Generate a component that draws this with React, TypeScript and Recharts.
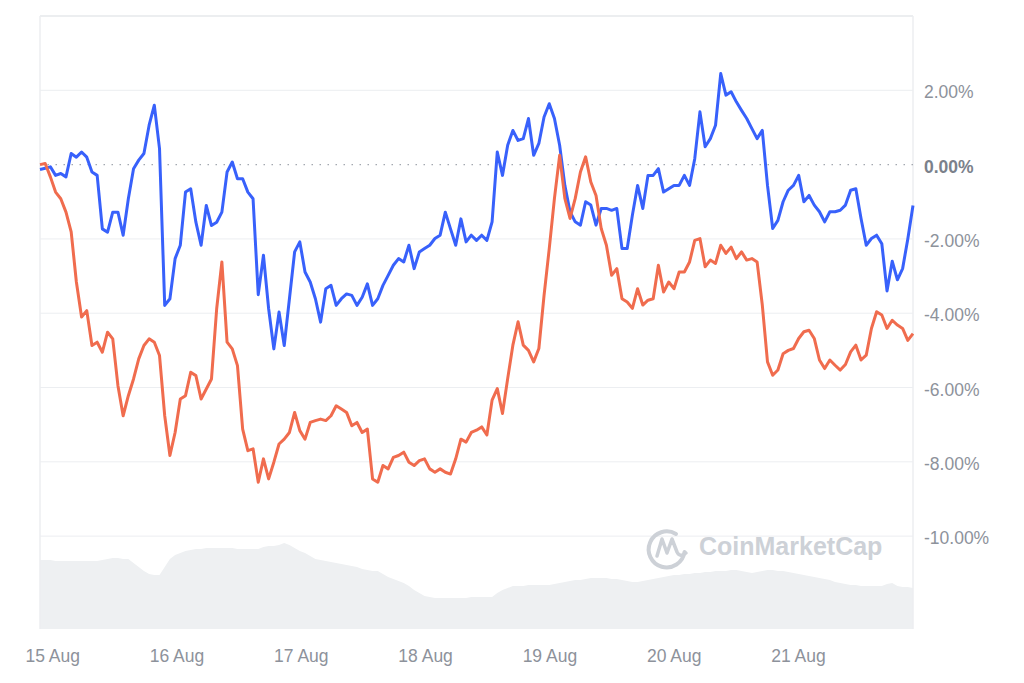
import {
  ComposedChart,
  Line,
  Area,
  XAxis,
  YAxis,
  ReferenceLine,
} from 'recharts'

// hourly samples, first one at 14 Aug 21:33 (hours relative to 15 Aug 00:00)
const START_HOUR = -2.45
const STEP_HOURS = 1.0033

const DAY_TICKS = [0, 24, 48, 72, 96, 120, 144]
const DAY_LABELS = ['15 Aug', '16 Aug', '17 Aug', '18 Aug', '19 Aug', '20 Aug', '21 Aug']
const PCT_TICKS = [2, 0, -2, -4, -6, -8, -10]

// % change, blue series
const BLUE = [
  -0.13, -0.1, -0.06, -0.29, -0.24, -0.33, 0.3, 0.2, 0.34, 0.2, -0.2, -0.29, -1.73, -1.82, -1.28, -1.28,
  -1.9, -0.92, -0.11, 0.12, 0.3, 1.06, 1.6, 0.43, -3.79, -3.61, -2.53, -2.17, -0.74, -0.65, -1.55, -2.17,
  -1.1, -1.64, -1.55, -1.28, -0.2, 0.07, -0.38, -0.38, -0.74, -0.92, -3.5, -2.44, -3.88, -4.96, -3.97, -4.87,
  -3.61, -2.35, -2.08, -2.89, -3.16, -3.61, -4.24, -3.34, -3.25, -3.79, -3.61, -3.48, -3.52, -3.79, -3.57, -3.21,
  -3.79, -3.61, -3.25, -2.98, -2.71, -2.53, -2.62, -2.17, -2.8, -2.35, -2.26, -2.17, -1.99, -1.9, -1.28, -1.73,
  -2.17, -1.46, -2.08, -1.9, -2.04, -1.9, -2.04, -1.54, 0.34, -0.29, 0.52, 0.92, 0.65, 0.7, 1.24, 0.25,
  0.57, 1.28, 1.64, 1.24, 0.52, -0.56, -1.27, -1.54, -1.63, -1.0, -1.09, -1.63, -1.18, -1.18, -1.23, -1.18,
  -2.26, -2.26, -1.36, -0.56, -1.18, -0.29, -0.29, -0.11, -0.74, -0.65, -0.56, -0.56, -0.29, -0.56, 0.16, 1.42,
  0.48, 0.7, 1.06, 2.45, 1.87, 1.96, 1.69, 1.46, 1.24, 0.97, 0.7, 0.92, -0.56, -1.72, -1.5, -1.0,
  -0.69, -0.56, -0.29, -1.0, -0.83, -1.09, -1.27, -1.54, -1.27, -1.27, -1.23, -1.09, -0.69, -0.65, -1.45, -2.17,
  -1.99, -1.9, -2.13, -3.4, -2.6, -3.1, -2.8, -2.0, -1.1,
]

// % change, orange series
const ORANGE = [
  0, 0.03, -0.33, -0.74, -0.92, -1.28, -1.81, -3.16, -4.1, -3.93, -4.87, -4.78, -5.05, -4.51, -4.69, -5.95,
  -6.76, -6.22, -5.77, -5.23, -4.87, -4.69, -4.78, -5.14, -6.76, -7.83, -7.21, -6.31, -6.22, -5.59, -5.68, -6.31,
  -6.04, -5.77, -3.88, -2.62, -4.78, -4.96, -5.41, -7.12, -7.7, -7.65, -8.55, -7.92, -8.46, -8.01, -7.52, -7.39,
  -7.21, -6.67, -7.16, -7.39, -6.94, -6.89, -6.85, -6.89, -6.76, -6.49, -6.58, -6.67, -7.03, -6.94, -7.21, -7.12,
  -8.46, -8.55, -8.1, -8.19, -7.88, -7.83, -7.74, -8.01, -8.1, -7.97, -7.92, -8.19, -8.28, -8.19, -8.28, -8.33,
  -7.92, -7.39, -7.47, -7.21, -7.15, -7.06, -7.28, -6.34, -6.03, -6.7, -5.76, -4.86, -4.23, -4.86, -5.0, -5.31,
  -4.95, -3.52, -2.26, -0.91, 0.25, -0.91, -1.45, -0.91, -0.2, 0.21, -0.47, -0.83, -1.72, -2.17, -2.98, -2.8,
  -3.61, -3.7, -3.87, -3.34, -3.78, -3.65, -3.61, -2.71, -3.43, -3.16, -3.34, -2.89, -2.89, -2.62, -2.04, -1.99,
  -2.75, -2.57, -2.66, -2.17, -2.39, -2.22, -2.53, -2.35, -2.57, -2.53, -2.62, -3.78, -5.31, -5.67, -5.53, -5.09,
  -5.0, -4.95, -4.68, -4.5, -4.46, -4.68, -5.26, -5.49, -5.26, -5.4, -5.53, -5.38, -5.04, -4.86, -5.26, -5.13,
  -4.41, -3.96, -4.05, -4.41, -4.19, -4.32, -4.41, -4.73, -4.55,
]

// volume, arbitrary units (hidden axis)
const VOLUME = [
  69, 69, 69, 68, 68, 68, 68, 68, 68, 68, 68, 68, 69, 70, 71, 71,
  70, 70, 66, 62, 58, 55, 54, 54, 62, 70, 74, 76, 78, 79, 80, 80,
  81, 81, 81, 81, 81, 81, 80, 80, 80, 80, 80, 82, 83, 83, 84, 86,
  84, 81, 78, 76, 73, 70, 69, 68, 67, 66, 65, 64, 63, 62, 60, 59,
  58, 58, 55, 52, 50, 48, 46, 43, 39, 36, 33, 32, 31, 31, 31, 31,
  31, 31, 31, 32, 32, 32, 32, 32, 36, 39, 41, 43, 43, 43, 44, 44,
  44, 44, 44, 45, 46, 47, 48, 49, 49, 50, 51, 51, 51, 51, 50, 50,
  49, 48, 47, 47, 48, 49, 50, 51, 52, 53, 54, 54, 55, 55, 56, 56,
  57, 57, 58, 58, 58, 59, 59, 58, 57, 56, 57, 58, 59, 59, 58, 58,
  57, 56, 55, 54, 53, 52, 51, 50, 49, 47, 46, 45, 44, 44, 43, 43,
  43, 43, 43, 45, 46, 43, 42, 42, 41,
]

const FONT = '"Liberation Sans", Arial, Helvetica, sans-serif'

const rows = BLUE.map((b, i) => ({
  t: START_HOUR + i * STEP_HOURS,
  blue: b,
  orange: ORANGE[i],
  vol: VOLUME[i],
}))

const fmtPct = (v: number) => `${v.toFixed(2)}%`

function PctTick(props: any) {
  const { x, y, payload } = props
  const zero = payload.value === 0
  return (
    <text
      x={x + 3}
      y={y}
      dy={8}
      textAnchor="start"
      fontSize={17.5}
      fontFamily={FONT}
      fontWeight={zero ? 700 : 400}
      fill={zero ? '#7b818b' : '#8d929b'}
    >
      {fmtPct(payload.value)}
    </text>
  )
}

function DayTick(props: any) {
  const { x, y, payload } = props
  const idx = DAY_TICKS.indexOf(payload.value)
  return (
    <text x={x} y={y} dy={25} textAnchor="middle" fontSize={17.5} fontFamily={FONT} fill="#8d929b">
      {DAY_LABELS[idx]}
    </text>
  )
}

const GRID = '#eceef1'

export default function App() {
  return (
    <div style={{ position: 'absolute', left: 0, top: 0, width: 1024, height: 683, background: '#fff' }}>
      <ComposedChart
        width={1024}
        height={683}
        data={rows}
        margin={{ top: 16, right: 0, bottom: 0, left: 40 }}
      >
        <XAxis
          dataKey="t"
          type="number"
          domain={['dataMin', 'dataMax']}
          ticks={DAY_TICKS}
          tick={<DayTick />}
          tickLine={false}
          axisLine={false}
          height={54}
          yAxisId="pct"
        />
        <YAxis
          yAxisId="pct"
          orientation="right"
          domain={[-12.5, 4]}
          ticks={PCT_TICKS}
          tick={<PctTick />}
          tickLine={false}
          axisLine={false}
          width={111}
          allowDataOverflow
        />
        <YAxis yAxisId="vol" domain={[0, 613]} hide />
        {PCT_TICKS.filter(v => v !== 0).map(v => (
          <ReferenceLine key={v} yAxisId="pct" y={v} stroke={GRID} strokeWidth={1} />
        ))}
        <ReferenceLine yAxisId="pct" y={4} stroke="#e6e8eb" strokeWidth={1.5} />
        <ReferenceLine yAxisId="pct" x={rows[0].t} stroke="#eceef1" strokeWidth={1.5} />
        <ReferenceLine yAxisId="pct" x={rows[rows.length - 1].t} stroke="#eceef1" strokeWidth={1.5} />
        <Area
          yAxisId="vol"
          type="linear"
          dataKey="vol"
          stroke="none"
          fill="#eef0f2"
          fillOpacity={1}
          isAnimationActive={false}
        />
        <ReferenceLine yAxisId="pct" y={0} stroke="#a3a8b0" strokeWidth={1.2} strokeDasharray="1.5 6.5" />
        <Line
          yAxisId="pct"
          type="linear"
          dataKey="blue"
          stroke="#3861fb"
          strokeWidth={3}
          strokeLinejoin="round"
          dot={false}
          isAnimationActive={false}
        />
        <Line
          yAxisId="pct"
          type="linear"
          dataKey="orange"
          stroke="#f06c4e"
          strokeWidth={3}
          strokeLinejoin="round"
          dot={false}
          isAnimationActive={false}
        />
      </ComposedChart>
      <svg
        width={1024}
        height={683}
        style={{ position: 'absolute', left: 0, top: 0, pointerEvents: 'none' }}
      >
        <path
          d="M 684.5 552 A 18 18 0 1 1 676 534"
          fill="none"
          stroke="#cdd1d7"
          strokeWidth={4}
          strokeLinecap="round"
        />
        <path
          d="M 657 556 L 662 539 L 667 553 L 672 539 L 677 552 Q 680 558 686 553"
          fill="none"
          stroke="#cdd1d7"
          strokeWidth={3.5}
          strokeLinejoin="round"
          strokeLinecap="round"
        />
        <text x={699} y={555} fontSize={25} fontWeight={700} fontFamily={FONT} fill="#cdd1d7">
          CoinMarketCap
        </text>
      </svg>
    </div>
  )
}
